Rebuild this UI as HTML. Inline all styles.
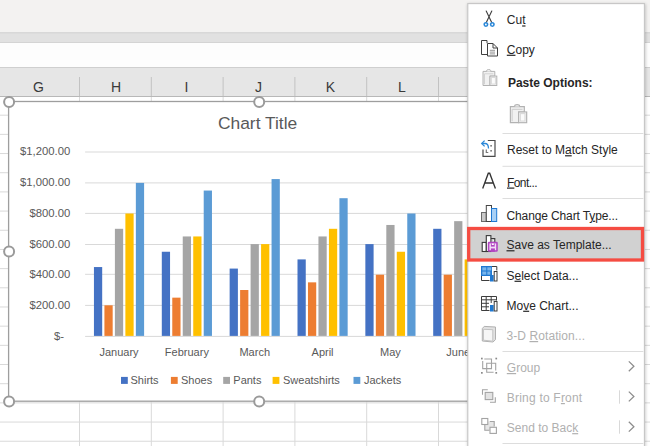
<!DOCTYPE html>
<html><head><meta charset="utf-8"><style>
html,body{margin:0;padding:0;background:#fff;}
body{width:650px;height:446px;overflow:hidden;position:relative;}
svg{position:absolute;left:0;top:0;display:block;font-family:"Liberation Sans", sans-serif;}
</style></head><body>
<svg width="650" height="446" viewBox="0 0 650 446">
<rect x="0" y="0" width="650" height="32" fill="#f3f2f1"/>
<rect x="0" y="32" width="650" height="10" fill="#e1e1e1"/>
<rect x="0" y="32" width="650" height="1.5" fill="#d8d8d8"/>
<rect x="0" y="42" width="650" height="1" fill="#d4d4d4"/>
<rect x="0" y="43" width="650" height="24" fill="#fdfdfd"/>
<rect x="0" y="67" width="650" height="1" fill="#cfcfcf"/>
<rect x="0" y="68" width="650" height="28" fill="#e6e6e6"/>
<rect x="0" y="96" width="650" height="1" fill="#b8b8b8"/>
<rect x="79.00" y="77" width="1" height="19" fill="#c2c2c2"/>
<rect x="150.80" y="77" width="1" height="19" fill="#c2c2c2"/>
<rect x="222.60" y="77" width="1" height="19" fill="#c2c2c2"/>
<rect x="294.40" y="77" width="1" height="19" fill="#c2c2c2"/>
<rect x="366.20" y="77" width="1" height="19" fill="#c2c2c2"/>
<rect x="438.00" y="77" width="1" height="19" fill="#c2c2c2"/>
<rect x="509.80" y="77" width="1" height="19" fill="#c2c2c2"/>
<rect x="581.60" y="77" width="1" height="19" fill="#c2c2c2"/>
<rect x="653.40" y="77" width="1" height="19" fill="#c2c2c2"/>
<text x="38.4" y="92.3" font-size="14" fill="#3a3a3a" text-anchor="middle">G</text>
<text x="116" y="92.3" font-size="14" fill="#3a3a3a" text-anchor="middle">H</text>
<text x="186.5" y="92.3" font-size="14" fill="#3a3a3a" text-anchor="middle">I</text>
<text x="258.5" y="92.3" font-size="14" fill="#3a3a3a" text-anchor="middle">J</text>
<text x="330.4" y="92.3" font-size="14" fill="#3a3a3a" text-anchor="middle">K</text>
<text x="402" y="92.3" font-size="14" fill="#3a3a3a" text-anchor="middle">L</text>
<text x="474" y="92.3" font-size="14" fill="#3a3a3a" text-anchor="middle">M</text>
<rect x="0" y="114.68" width="650" height="1" fill="#d9d9d9"/>
<rect x="0" y="133.86" width="650" height="1" fill="#d9d9d9"/>
<rect x="0" y="153.04" width="650" height="1" fill="#d9d9d9"/>
<rect x="0" y="172.22" width="650" height="1" fill="#d9d9d9"/>
<rect x="0" y="191.40" width="650" height="1" fill="#d9d9d9"/>
<rect x="0" y="210.58" width="650" height="1" fill="#d9d9d9"/>
<rect x="0" y="229.76" width="650" height="1" fill="#d9d9d9"/>
<rect x="0" y="248.94" width="650" height="1" fill="#d9d9d9"/>
<rect x="0" y="268.12" width="650" height="1" fill="#d9d9d9"/>
<rect x="0" y="287.30" width="650" height="1" fill="#d9d9d9"/>
<rect x="0" y="306.48" width="650" height="1" fill="#d9d9d9"/>
<rect x="0" y="325.66" width="650" height="1" fill="#d9d9d9"/>
<rect x="0" y="344.84" width="650" height="1" fill="#d9d9d9"/>
<rect x="0" y="364.02" width="650" height="1" fill="#d9d9d9"/>
<rect x="0" y="383.20" width="650" height="1" fill="#d9d9d9"/>
<rect x="0" y="402.38" width="650" height="1" fill="#d9d9d9"/>
<rect x="0" y="421.56" width="650" height="1" fill="#d9d9d9"/>
<rect x="0" y="440.74" width="650" height="1" fill="#d9d9d9"/>
<rect x="79.00" y="97" width="1" height="350" fill="#d9d9d9"/>
<rect x="150.80" y="97" width="1" height="350" fill="#d9d9d9"/>
<rect x="222.60" y="97" width="1" height="350" fill="#d9d9d9"/>
<rect x="294.40" y="97" width="1" height="350" fill="#d9d9d9"/>
<rect x="366.20" y="97" width="1" height="350" fill="#d9d9d9"/>
<rect x="438.00" y="97" width="1" height="350" fill="#d9d9d9"/>
<rect x="509.80" y="97" width="1" height="350" fill="#d9d9d9"/>
<rect x="581.60" y="97" width="1" height="350" fill="#d9d9d9"/>
<rect x="653.40" y="97" width="1" height="350" fill="#d9d9d9"/>
<rect x="8.6" y="101.5" width="500.4" height="299.7" fill="#fff" stroke="#9e9e9e" stroke-width="1.3"/>
<rect x="85.1" y="335.90" width="407.9" height="1" fill="#d9d9d9"/>
<rect x="85.1" y="304.90" width="407.9" height="1" fill="#d9d9d9"/>
<rect x="85.1" y="273.80" width="407.9" height="1" fill="#d9d9d9"/>
<rect x="85.1" y="244.00" width="407.9" height="1" fill="#d9d9d9"/>
<rect x="85.1" y="212.90" width="407.9" height="1" fill="#d9d9d9"/>
<rect x="85.1" y="182.40" width="407.9" height="1" fill="#d9d9d9"/>
<rect x="85.1" y="151.50" width="407.9" height="1" fill="#d9d9d9"/>
<text x="64" y="340.20" font-size="11.3" fill="#595959" text-anchor="end">$-</text>
<text x="70.3" y="309.20" font-size="11.3" fill="#595959" text-anchor="end">$200.00</text>
<text x="70.3" y="278.10" font-size="11.3" fill="#595959" text-anchor="end">$400.00</text>
<text x="70.3" y="248.30" font-size="11.3" fill="#595959" text-anchor="end">$600.00</text>
<text x="70.3" y="217.20" font-size="11.3" fill="#595959" text-anchor="end">$800.00</text>
<text x="70.3" y="186.20" font-size="11.3" fill="#595959" text-anchor="end">$1,000.00</text>
<text x="70.3" y="155.30" font-size="11.3" fill="#595959" text-anchor="end">$1,200.00</text>
<rect x="93.94" y="267.05" width="8.25" height="68.85" fill="#4472c4"/>
<rect x="104.42" y="305.30" width="8.25" height="30.60" fill="#ed7d31"/>
<rect x="114.90" y="228.80" width="8.25" height="107.10" fill="#a5a5a5"/>
<rect x="125.38" y="213.50" width="8.25" height="122.40" fill="#ffc000"/>
<rect x="135.85" y="182.90" width="8.25" height="153.00" fill="#5b9bd5"/>
<rect x="161.80" y="251.75" width="8.25" height="84.15" fill="#4472c4"/>
<rect x="172.27" y="297.65" width="8.25" height="38.25" fill="#ed7d31"/>
<rect x="182.75" y="236.45" width="8.25" height="99.45" fill="#a5a5a5"/>
<rect x="193.23" y="236.45" width="8.25" height="99.45" fill="#ffc000"/>
<rect x="203.71" y="190.55" width="8.25" height="145.35" fill="#5b9bd5"/>
<rect x="229.64" y="268.58" width="8.25" height="67.32" fill="#4472c4"/>
<rect x="240.12" y="290.00" width="8.25" height="45.90" fill="#ed7d31"/>
<rect x="250.60" y="244.10" width="8.25" height="91.80" fill="#a5a5a5"/>
<rect x="261.08" y="244.10" width="8.25" height="91.80" fill="#ffc000"/>
<rect x="271.56" y="179.07" width="8.25" height="156.83" fill="#5b9bd5"/>
<rect x="297.50" y="259.40" width="8.25" height="76.50" fill="#4472c4"/>
<rect x="307.97" y="282.35" width="8.25" height="53.55" fill="#ed7d31"/>
<rect x="318.45" y="236.45" width="8.25" height="99.45" fill="#a5a5a5"/>
<rect x="328.93" y="228.80" width="8.25" height="107.10" fill="#ffc000"/>
<rect x="339.41" y="198.20" width="8.25" height="137.70" fill="#5b9bd5"/>
<rect x="365.35" y="244.10" width="8.25" height="91.80" fill="#4472c4"/>
<rect x="375.82" y="274.70" width="8.25" height="61.20" fill="#ed7d31"/>
<rect x="386.30" y="224.97" width="8.25" height="110.93" fill="#a5a5a5"/>
<rect x="396.78" y="251.75" width="8.25" height="84.15" fill="#ffc000"/>
<rect x="407.26" y="213.50" width="8.25" height="122.40" fill="#5b9bd5"/>
<rect x="433.20" y="228.80" width="8.25" height="107.10" fill="#4472c4"/>
<rect x="443.67" y="274.70" width="8.25" height="61.20" fill="#ed7d31"/>
<rect x="454.15" y="221.15" width="8.25" height="114.75" fill="#a5a5a5"/>
<rect x="464.63" y="259.40" width="8.25" height="76.50" fill="#ffc000"/>
<rect x="475.11" y="213.50" width="8.25" height="122.40" fill="#5b9bd5"/>
<text x="119.02" y="355.5" font-size="11" fill="#595959" text-anchor="middle">January</text>
<text x="186.88" y="355.5" font-size="11" fill="#595959" text-anchor="middle">February</text>
<text x="254.72" y="355.5" font-size="11" fill="#595959" text-anchor="middle">March</text>
<text x="322.57" y="355.5" font-size="11" fill="#595959" text-anchor="middle">April</text>
<text x="390.43" y="355.5" font-size="11" fill="#595959" text-anchor="middle">May</text>
<text x="458.28" y="355.5" font-size="11" fill="#595959" text-anchor="middle">June</text>
<text x="257.6" y="129" font-size="17.4" fill="#595959" text-anchor="middle">Chart Title</text>
<rect x="121.00" y="376.9" width="6.8" height="7" fill="#4472c4"/>
<text x="130.5" y="383.9" font-size="11" fill="#595959">Shirts</text>
<rect x="170.90" y="376.9" width="6.8" height="7" fill="#ed7d31"/>
<text x="181" y="383.9" font-size="11" fill="#595959">Shoes</text>
<rect x="223.20" y="376.9" width="6.8" height="7" fill="#a5a5a5"/>
<text x="233.3" y="383.9" font-size="11" fill="#595959">Pants</text>
<rect x="272.60" y="376.9" width="6.8" height="7" fill="#ffc000"/>
<text x="283" y="383.9" font-size="11" fill="#595959">Sweatshirts</text>
<rect x="353.50" y="376.9" width="6.8" height="7" fill="#5b9bd5"/>
<text x="364" y="383.9" font-size="11" fill="#595959">Jackets</text>
<circle cx="9.1" cy="101.9" r="5" fill="#fff" stroke="#9a9a9a" stroke-width="2"/>
<circle cx="259.2" cy="101.9" r="5" fill="#fff" stroke="#9a9a9a" stroke-width="2"/>
<circle cx="9.1" cy="251.6" r="5" fill="#fff" stroke="#9a9a9a" stroke-width="2"/>
<circle cx="9.1" cy="401.4" r="5" fill="#fff" stroke="#9a9a9a" stroke-width="2"/>
<circle cx="259.2" cy="401.4" r="5" fill="#fff" stroke="#9a9a9a" stroke-width="2"/>
<defs><filter id="sh" x="-10%" y="-10%" width="120%" height="120%"><feGaussianBlur stdDeviation="1.5"/></filter></defs>
<rect x="467.3" y="3.6" width="178.59999999999997" height="460" fill="#000" opacity="0.18" filter="url(#sh)"/>
<rect x="467.8" y="3.6" width="176.59999999999997" height="460" fill="#fff" stroke="#c6c6c6" stroke-width="1.1"/>
<rect x="502.5" y="133.0" width="140.89999999999998" height="1" fill="#dddddd"/>
<rect x="502.5" y="165.8" width="140.89999999999998" height="1" fill="#dddddd"/>
<rect x="502.5" y="198.0" width="140.89999999999998" height="1" fill="#dddddd"/>
<rect x="502.5" y="351.0" width="140.89999999999998" height="1" fill="#dddddd"/>
<rect x="502.5" y="443.0" width="140.89999999999998" height="1" fill="#dddddd"/>
<rect x="468.7" y="228.5" width="173.8" height="31.5" fill="#d1d1d1" stroke="#f54c42" stroke-width="3.3"/>
<text x="506.8" y="24.4" font-size="12" fill="#262626">Cu<tspan text-decoration="underline">t</tspan></text>
<text x="506.8" y="53.7" font-size="12" fill="#262626"><tspan text-decoration="underline">C</tspan>opy</text>
<text x="507.9" y="86.8" font-size="12" fill="#262626" font-weight="bold">Paste Options:</text>
<text x="507" y="154.2" font-size="12" fill="#262626">Reset to M<tspan text-decoration="underline">a</tspan>tch Style</text>
<text x="507" y="186.5" font-size="12" fill="#262626" textLength="30.5" lengthAdjust="spacing"><tspan text-decoration="underline">F</tspan>ont...</text>
<text x="506.5" y="219.7" font-size="12" fill="#262626" textLength="111.5" lengthAdjust="spacing">Change Chart T<tspan text-decoration="underline">y</tspan>pe...</text>
<text x="506.5" y="249.2" font-size="12" fill="#262626"><tspan text-decoration="underline">S</tspan>ave as Template...</text>
<text x="506.5" y="279.7" font-size="12" fill="#262626">S<tspan text-decoration="underline">e</tspan>lect Data...</text>
<text x="506.5" y="309.7" font-size="12" fill="#262626">Mo<tspan text-decoration="underline">v</tspan>e Chart...</text>
<text x="506.5" y="340" font-size="12" fill="#b0b0b0" textLength="78.5" lengthAdjust="spacing">3-D <tspan text-decoration="underline">R</tspan>otation...</text>
<text x="506.8" y="372" font-size="12" fill="#b0b0b0"><tspan text-decoration="underline">G</tspan>roup</text>
<text x="506.8" y="402" font-size="12" fill="#b0b0b0" textLength="75.4" lengthAdjust="spacing">Bring to F<tspan text-decoration="underline">r</tspan>ont</text>
<text x="506.8" y="432.1" font-size="12" fill="#b0b0b0">Send to Bac<tspan text-decoration="underline">k</tspan></text>
<path d="M628.8 361.40000000000003 L633.9 366.3 L628.8 371.2" fill="none" stroke="#8c8c8c" stroke-width="1.25"/>
<path d="M628.8 391.6 L633.9 396.5 L628.8 401.4" fill="none" stroke="#8c8c8c" stroke-width="1.25"/>
<path d="M628.8 421.8 L633.9 426.7 L628.8 431.59999999999997" fill="none" stroke="#8c8c8c" stroke-width="1.25"/>
<rect x="619" y="390.3" width="1" height="13.4" fill="#d9d9d9"/>
<rect x="619" y="420.3" width="1" height="13.4" fill="#d9d9d9"/>
<g id="ic-cut" fill="none" stroke-linecap="round">
  <path d="M486.2 11 L491.6 22.3 M491.8 11 L486.4 22.3" stroke="#3d3d3d" stroke-width="1.1"/>
  <circle cx="485.9" cy="24.5" r="1.7" stroke="#2b88d8" stroke-width="1.6" fill="#fff"/>
  <circle cx="492.3" cy="24.5" r="1.7" stroke="#2b88d8" stroke-width="1.6" fill="#fff"/>
</g>
<g id="ic-copy" fill="none" stroke="#404040" stroke-width="1">
  <path d="M487.5 54.5 H481.5 V40.5 H487 V43.2"/>
  <path d="M487.5 43.5 H493 L497.5 48 V56 H487.5 Z" fill="#fff"/>
  <path d="M493 43.5 V48 H497.5"/>
  <path d="M489.8 50.3 H495 M489.8 52.1 H495 M489.8 53.9 H495" stroke="#8a8a8a" stroke-width="0.9"/>
</g>
<g id="ic-paste1" stroke="#b2b2b2" stroke-width="1" transform="translate(482.5 69.2)">
  <path d="M0.5 2.2 H12.3 V6.9 H7.5 V16.3 H0.5 Z" fill="#f1f1f1"/>
  <path d="M4.2 2.2 V1.4 Q4.2 0.4 6.2 0.4 Q8.2 0.4 8.2 1.4 V2.2" fill="#f8f8f8"/>
  <path d="M2 4.6 H10.8 M2 4.6 V15" stroke="#d2d2d2"/>
  <rect x="7.5" y="6.9" width="6.8" height="9.4" fill="#fbfbfb"/>
  <rect x="8.9" y="8.3" width="4" height="6.6" fill="none" stroke="#dadada"/>
</g>
<g id="ic-paste2" stroke="#b2b2b2" stroke-width="1" transform="translate(509.8 104.1) scale(1.18 1.14)">
  <path d="M0.5 2.2 H12.3 V6.9 H7.5 V16.3 H0.5 Z" fill="#f1f1f1"/>
  <path d="M4.2 2.2 V1.4 Q4.2 0.4 6.2 0.4 Q8.2 0.4 8.2 1.4 V2.2" fill="#f8f8f8"/>
  <path d="M2 4.6 H10.8 M2 4.6 V15" stroke="#d2d2d2"/>
  <rect x="7.5" y="6.9" width="6.8" height="9.4" fill="#fbfbfb"/>
  <rect x="8.9" y="8.3" width="4" height="6.6" fill="none" stroke="#dadada"/>
</g>
<g id="ic-reset" fill="none">
  <path d="M483 149.5 V156.3 H495 V140.5 H487.8" stroke="#4a4a4a" stroke-width="1.2"/>
  <path d="M481.8 143.5 H485 Q488.5 143.5 488.5 148.5" stroke="#2b88d8" stroke-width="1.3"/>
  <path d="M484.6 140.6 L481.7 143.5 L484.6 146.4" stroke="#2b88d8" stroke-width="1.3"/>
  <rect x="490.3" y="145" width="1.6" height="1.6" fill="#777"/>
  <rect x="490.3" y="150" width="1.6" height="1.6" fill="#777"/>
  <path d="M486.3 149.5 V152.5 H488.3" stroke="#777" stroke-width="1.2"/>
</g>
<g id="ic-font" fill="none" stroke="#333" stroke-width="1.35" stroke-linejoin="miter">
  <path d="M482.7 188.6 L488.3 173.2 H489.7 L495.4 188.6 M485.1 183 H492.9"/>
</g>
<g id="ic-cct" stroke-width="1">
  <rect x="481.5" y="212.5" width="4.8" height="9" fill="#c9c9c9" stroke="#6a6a6a"/>
  <rect x="486.3" y="205.5" width="5.2" height="16" fill="#fff" stroke="#454545"/>
  <rect x="491.5" y="208.5" width="5.2" height="13" fill="#a9d1f6" stroke="#1f78d1"/>
</g>
<g id="ic-sat" stroke-width="1.1">
  <rect x="482.2" y="242.4" width="4.1" height="9.1" fill="#fff" stroke="#3a3a3a"/>
  <rect x="486.3" y="235.6" width="4.6" height="15.9" fill="#fff" stroke="#3a3a3a"/>
  <path d="M490.9 238.6 H494.8 V242" fill="#fff" stroke="#3a3a3a"/>
  <rect x="487.8" y="241.8" width="10" height="10" rx="1.2" fill="#b146c2"/>
  <rect x="489.4" y="243.4" width="6.8" height="6.8" fill="#f3dcf6"/>
  <rect x="490.9" y="243.4" width="3.8" height="3.2" fill="#b146c2"/>
  <rect x="491.8" y="243.4" width="2" height="1.6" fill="#fff"/>
  <rect x="490.9" y="248.4" width="4" height="3.4" fill="#b146c2"/>
</g>
<g id="ic-sel" stroke-width="1">
  <rect x="481" y="266" width="11" height="10" fill="#1f78d1"/>
  <rect x="482.3" y="267.3" width="4" height="3.2" fill="#7ab6ec"/>
  <rect x="487.3" y="267.3" width="4" height="3.2" fill="#7ab6ec"/>
  <rect x="482.3" y="271.5" width="4" height="3.2" fill="#7ab6ec"/>
  <rect x="487.3" y="271.5" width="3" height="3.2" fill="#7ab6ec"/>
  <path d="M492 266.5 H496.8 V270.5 M481.5 276 V280.5 H489.5" fill="none" stroke="#3d3d3d"/>
  <rect x="490" y="275" width="3.6" height="6.5" fill="#1f78d1"/>
  <rect x="494.2" y="271.5" width="2.8" height="9.5" fill="#fff" stroke="#3d3d3d"/>
</g>
<g id="ic-move" stroke-width="1" fill="none">
  <path d="M481.5 296.5 H496.5 V300.5 M481.5 296.5 V310.5 H489.5 M481.5 299.8 H496.5 M481.5 303.3 H489 M481.5 306.8 H489 M486.2 296.5 V310.5 M491.2 296.5 V303" stroke="#3d3d3d"/>
  <rect x="490" y="305" width="3.6" height="6.5" fill="#1f78d1" stroke="none"/>
  <rect x="494.2" y="301.5" width="2.8" height="9.5" fill="#fff" stroke="#3d3d3d"/>
</g>
<g id="ic-3d" stroke="#b0b0b0" stroke-width="1">
  <path d="M482.3 328.6 L484.2 326.4 L495.5 327 V339.6 L493 342 L482.3 341 Z" fill="#e2e2e2"/>
  <path d="M483.4 329.3 L492.8 329.7 V341.2 L483.4 340.2 Z" fill="#f6f6f6" stroke="#c2c2c2"/>
</g>
<g id="ic-group" fill="none" stroke="#a3a3a3" stroke-width="1.1">
  <path d="M484.3 359 H491.5 V368.6 H482.7 V361"/>
  <path d="M486.7 368.6 V363.3 H495.7 V370.6 M493.6 372.3 H486.7 V368.6"/>
  <g fill="#8a8a8a" stroke="none">
    <rect x="481" y="357.7" width="1.7" height="1.7"/><rect x="495.4" y="357.7" width="1.7" height="1.7"/>
    <rect x="481" y="372" width="1.7" height="1.7"/><rect x="495.4" y="372" width="1.7" height="1.7"/>
  </g>
</g>
<g id="ic-btf" fill="none" stroke="#a3a3a3" stroke-width="1.1">
  <path d="M482.5 394.7 V389.8 H487.8"/>
  <rect x="485.2" y="392.4" width="7.6" height="7.2" fill="#e3e3e3"/>
  <path d="M495.3 397.3 V402.2 H490"/>
</g>
<g id="ic-stb" fill="none" stroke="#a3a3a3" stroke-width="1.1">
  <rect x="485" y="421.5" width="9.2" height="9" fill="#e6e6e6" stroke="none"/>
  <rect x="481.8" y="418.5" width="6" height="6" fill="#fff"/>
  <path d="M489.8 421.5 H494.2 V426.5 M484.8 424.8 V430.3 H489.5"/>
  <rect x="490" y="427.3" width="6.4" height="6.1" fill="#fff"/>
</g>

</svg>
</body></html>
